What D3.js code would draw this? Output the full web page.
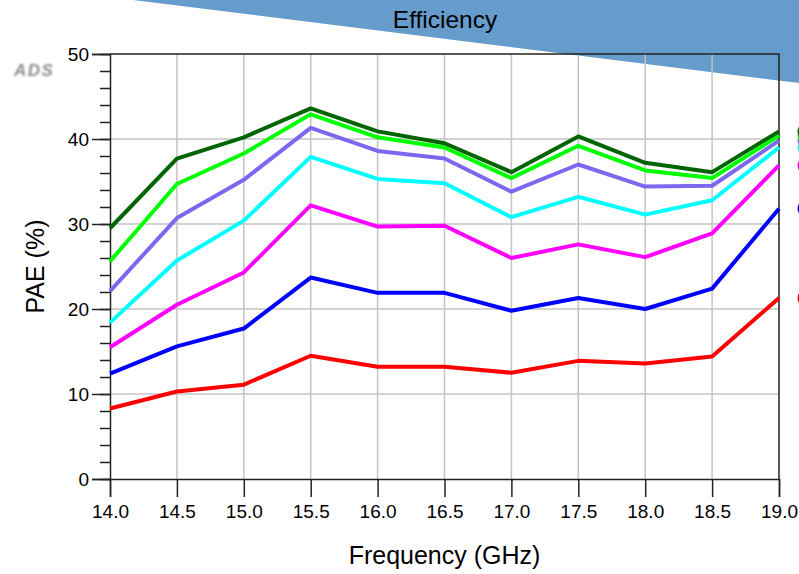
<!DOCTYPE html>
<html>
<head>
<meta charset="utf-8">
<script src="https://cdn.jsdelivr.net/npm/d3@7"></script>
<style>
  html, body { margin: 0; padding: 0; background: #ffffff; overflow: hidden; }
  svg { display: block; font-family: "Liberation Sans", Arial, sans-serif; }
</style>
</head>
<body>
<svg id="chart" width="799" height="574"></svg>
<script>
// Frequency sweep points (GHz)
const freqs = [14.0, 14.5, 15.0, 15.5, 16.0, 16.5, 17.0, 17.5, 18.0, 18.5, 19.0];

// PAE (%) per drive level, lowest to highest
const paeRed     = [8.3, 10.3, 11.1, 14.5, 13.2, 13.2, 12.5, 13.9, 13.6, 14.4, 21.3];
const paeBlue    = [12.4, 15.6, 17.7, 23.7, 21.9, 21.9, 19.8, 21.3, 20.0, 22.4, 31.8];
const paeMagenta = [15.5, 20.5, 24.3, 32.2, 29.7, 29.8, 26.0, 27.6, 26.1, 28.9, 36.9];
const paeCyan    = [18.4, 25.7, 30.4, 37.9, 35.3, 34.8, 30.8, 33.2, 31.1, 32.8, 39.0];
const paePurple  = [22.1, 30.7, 35.2, 41.3, 38.6, 37.7, 33.8, 37.0, 34.4, 34.5, 39.8];
const paeLime    = [25.6, 34.7, 38.3, 42.9, 40.2, 39.0, 35.4, 39.2, 36.3, 35.4, 40.4];
const paeGreen   = [29.5, 37.7, 40.2, 43.6, 40.9, 39.5, 36.1, 40.3, 37.2, 36.1, 40.9];

const traceColors = ["#ff0000", "#0000ff", "#ff00ff", "#00ffff", "#7b68ee", "#00ff00", "#006400"];
const traceValues = [paeRed, paeBlue, paeMagenta, paeCyan, paePurple, paeLime, paeGreen];

// Axis ticks
const xTicks = [14.0, 14.5, 15.0, 15.5, 16.0, 16.5, 17.0, 17.5, 18.0, 18.5, 19.0];
const yMajorTicks = [0, 10, 20, 30, 40, 50];
const yMinorTicks = d3.range(0, 51, 2);

const titleText = "Efficiency";
const xLabel = "Frequency (GHz)";
const yLabel = "PAE (%)";

const svg = d3.select("#chart");
const W = 799, H = 574;
const plot = { left: 110, right: 779, top: 54, bottom: 479 };

const x = d3.scaleLinear().domain([14, 19]).range([plot.left, plot.right]);
const y = d3.scaleLinear().domain([0, 50]).range([plot.bottom, plot.top]);

// Title banner: slanted blue band across the top
svg.append("path")
  .attr("d", `M133,0 L${W},0 L${W},83 Z`)
  .attr("fill", "#669ccb");

svg.append("text")
  .attr("x", 445).attr("y", 28)
  .attr("text-anchor", "middle")
  .attr("font-size", 24.5)
  .attr("fill", "#000")
  .text(titleText);

// Soft watermark in the corner
svg.append("defs").append("filter").attr("id", "soft")
  .attr("x", "-20%").attr("y", "-40%").attr("width", "140%").attr("height", "180%")
  .append("feGaussianBlur").attr("stdDeviation", 1.1);
svg.append("text")
  .attr("x", 14).attr("y", 76)
  .attr("font-size", 17)
  .attr("font-weight", "bold")
  .attr("font-style", "italic")
  .attr("letter-spacing", 1.5)
  .attr("fill", "#8c8c8c")
  .attr("filter", "url(#soft)")
  .text("ADS");

// Grid
const grid = svg.append("g").attr("stroke", "#c4c4c4").attr("stroke-width", 1.5);
grid.selectAll("line.v").data(xTicks.filter(d => d > 14 && d < 19)).join("line")
  .attr("x1", d => x(d)).attr("x2", d => x(d))
  .attr("y1", plot.top).attr("y2", plot.bottom);
grid.selectAll("line.h").data(yMajorTicks.filter(d => d > 0 && d < 50)).join("line")
  .attr("x1", plot.left).attr("x2", plot.right)
  .attr("y1", d => y(d)).attr("y2", d => y(d));

// Frame (top and right edges)
svg.append("path")
  .attr("d", `M${plot.left},${plot.top} H${plot.right} V${plot.bottom}`)
  .attr("fill", "none").attr("stroke", "#222").attr("stroke-width", 1.5);

// Y axis: minor then major ticks
const yMinor = svg.append("g").attr("transform", `translate(${plot.left},0)`)
  .call(d3.axisLeft(y).tickValues(yMinorTicks).tickSize(10).tickFormat(""));
const yMajor = svg.append("g").attr("transform", `translate(${plot.left},0)`)
  .call(d3.axisLeft(y).tickValues(yMajorTicks).tickSize(18).tickPadding(3).tickFormat(d3.format("d")));

// X axis
const xAxis = svg.append("g").attr("transform", `translate(0,${plot.bottom})`)
  .call(d3.axisBottom(x).tickValues(xTicks).tickSize(18).tickPadding(8).tickFormat(d3.format(".1f")));

[yMinor, yMajor, xAxis].forEach(g => {
  g.select(".domain").attr("stroke", "#222").attr("stroke-width", 1.5);
  g.selectAll(".tick line").attr("stroke", "#222").attr("stroke-width", 1.5);
  g.selectAll(".tick text").attr("font-size", 19).attr("fill", "#000")
    .attr("font-family", "'Liberation Sans', Arial, sans-serif");
});
yMinor.select(".domain").remove();

// Traces
const line = d3.line().x((d, i) => x(freqs[i])).y(d => y(d));
svg.append("g").selectAll("path").data(traceValues).join("path")
  .attr("d", d => line(d))
  .attr("fill", "none")
  .attr("stroke", (d, i) => traceColors[i])
  .attr("stroke-width", 4)
  .attr("stroke-linejoin", "round");

// Trace end markers at the right edge
const markerOrder = [4, 5, 0, 1, 2, 3, 6];
svg.append("g").selectAll("circle").data(markerOrder).join("circle")
  .attr("cx", 806)
  .attr("cy", i => y(traceValues[i][traceValues[i].length - 1]))
  .attr("r", 7)
  .attr("fill", "#fff")
  .attr("stroke", i => traceColors[i])
  .attr("stroke-width", 3);

// Axis titles
svg.append("text")
  .attr("x", (plot.left + plot.right) / 2).attr("y", 564)
  .attr("text-anchor", "middle")
  .attr("font-size", 25)
  .text(xLabel);

svg.append("text")
  .attr("transform", `translate(44,${(plot.top + plot.bottom) / 2}) rotate(-90)`)
  .attr("text-anchor", "middle")
  .attr("font-size", 25)
  .text(yLabel);
</script>
</body>
</html>
